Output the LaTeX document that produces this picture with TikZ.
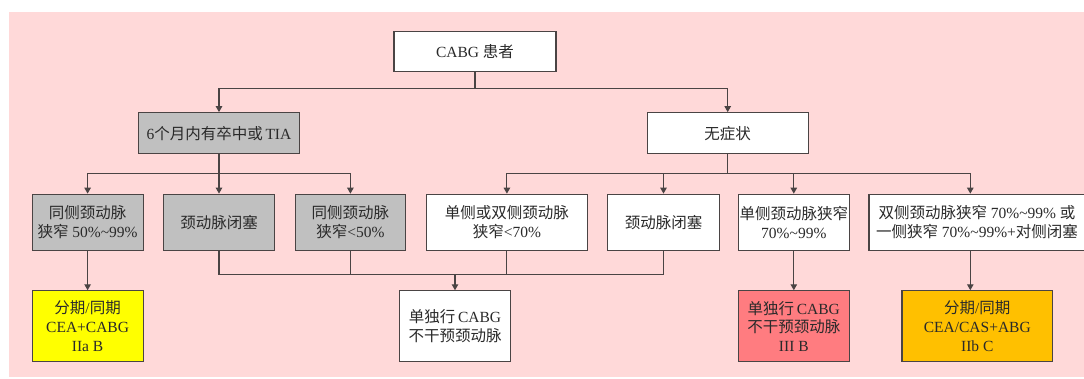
\documentclass[tikz,border=0pt]{standalone}
\usepackage{fontspec}
\setmainfont{Liberation Serif}
\newfontfamily\cjk{Noto Sans CJK SC}
\usetikzlibrary{arrows.meta,calc}
\definecolor{bgpink}{HTML}{FFD9D9}
\definecolor{boxgrey}{HTML}{C0C0C0}
\definecolor{boxyellow}{HTML}{FFFF00}
\definecolor{boxred}{HTML}{FF7C80}
\definecolor{boxorange}{HTML}{FFC000}
\definecolor{edge}{HTML}{4A4444}
\definecolor{ink}{HTML}{2A2A2A}
\newcommand\zh[1]{{\cjk #1}}
\begin{document}
\begin{tikzpicture}[x=1pt,y=-1pt,
  box/.style={draw=edge, line width=1.1pt, fill=white, align=center, inner sep=0pt,
    text=ink, font=\fontsize{15.5}{18.7}\selectfont},
  conn/.style={draw=edge, line width=1.1pt},
  arr/.style={conn, -{Triangle[length=6pt,width=6.5pt]}}]
\useasboundingbox (0,0) rectangle (1084,378);
\fill[bgpink] (9,12) rectangle (1084,376.7);

% level 1
\node[box, minimum width=162pt, minimum height=40pt] (top) at (475,51.7) {CABG \zh{患者}};
% level 2
\node[box, fill=boxgrey, minimum width=161pt, minimum height=41pt] (L) at (219,133.2) {6\zh{个月内有卒中或}\,TIA};
\node[box, minimum width=161pt, minimum height=41pt] (R) at (727.7,133.2) {\zh{无症状}};
% level 3
\node[box, fill=boxgrey, minimum width=111pt, minimum height=56pt] (a1) at (87.6,222.2) {\zh{同侧颈动脉}\\\zh{狭窄} 50\%\textasciitilde 99\%};
\node[box, fill=boxgrey, minimum width=111.6pt, minimum height=56pt] (a2) at (219,222.2) {\zh{颈动脉闭塞}};
\node[box, fill=boxgrey, minimum width=110.5pt, minimum height=56pt] (a3) at (350.4,222.2) {\zh{同侧颈动脉}\\\zh{狭窄}<50\%};
\node[box, minimum width=161pt, minimum height=56pt] (b1) at (506.9,222.2) {\zh{单侧或双侧颈动脉}\\\zh{狭窄}<70\%};
\node[box, minimum width=111.7pt, minimum height=56pt] (b2) at (663.5,222.2) {\zh{颈动脉闭塞}};
\node[box, minimum width=111.4pt, minimum height=56pt] (b3) at (793.8,222.2) {\zh{单侧颈动脉狭窄}\\70\%\textasciitilde 99\%};
\node[box, minimum width=216pt, minimum height=56pt] (b4) at (977,222.2) {\zh{双侧颈动脉狭窄} 70\%\textasciitilde 99\% \zh{或}\\\zh{一侧狭窄} 70\%\textasciitilde 99\%+\zh{对侧闭塞}};
% level 4
\node[box, fill=boxyellow, minimum width=111pt, minimum height=71pt] (d1) at (87.6,326.3) {\zh{分期}/\zh{同期}\\CEA+CABG\\IIa B};
\node[box, minimum width=111pt, minimum height=71pt] (d2) at (455,326.3) {\zh{单独行}\,CABG\\\zh{不干预颈动脉}};
\node[box, fill=boxred, minimum width=111.4pt, minimum height=71pt] (d3) at (793.8,326.3) {\zh{单独行}\,CABG\\\zh{不干预颈动脉}\\III B};
\node[box, fill=boxorange, minimum width=150.6pt, minimum height=71pt] (d4) at (977.3,326.3) {\zh{分期}/\zh{同期}\\CEA/CAS+ABG\\IIb C};

% connectors
\coordinate (j1) at (475,88.3);
\draw[conn] (top.south) -- (j1);
\draw[arr] (j1) -| (L.north);
\draw[arr] (j1) -| (R.north);

\coordinate (j2) at (219,173.7);
\draw[conn] (L.south) -- (j2);
\draw[arr] (j2) -| (a1.north);
\draw[arr] (j2) -- (a2.north);
\draw[arr] (j2) -| (a3.north);

\coordinate (j3) at (727.7,173.7);
\draw[conn] (R.south) -- (j3);
\draw[arr] (j3) -| (b1.north);
\draw[arr] (j3) -| (b2.north);
\draw[arr] (j3) -| (b3.north);
\draw[arr] (j3) -| ([xshift=-6.7pt]b4.north);

\draw[arr] (a1.south) -- (d1.north);
\draw[arr] (b3.south) -- (d3.north);
\draw[arr] ([xshift=-6.7pt]b4.south) -- ([xshift=-6.7pt]b4.south |- d4.north);

\coordinate (m) at (455,274.7);
\draw[conn] (a2.south) -- (a2.south |- m) -- (b2.south |- m) -- (b2.south);
\draw[conn] (a3.south) -- (a3.south |- m);
\draw[conn] (b1.south) -- (b1.south |- m);
\draw[arr] (m) -- (d2.north);
\end{tikzpicture}
\end{document}
